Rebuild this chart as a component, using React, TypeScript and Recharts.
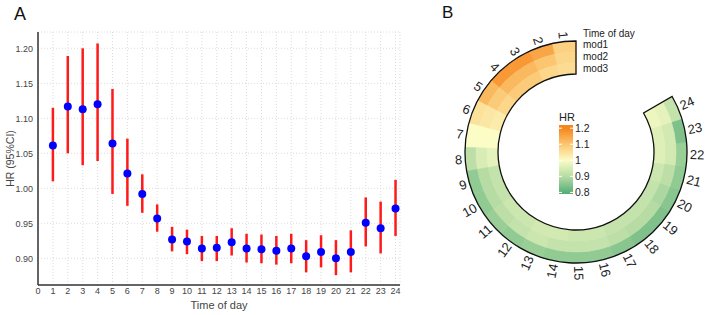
import React from 'react';
import {
  ComposedChart,
  Scatter,
  ErrorBar,
  XAxis,
  YAxis,
  CartesianGrid,
  PieChart,
  Pie,
  Cell,
} from 'recharts';

// Panel A: hazard ratio by hour with 95% CI
const hours = [1, 2, 3, 4, 5, 6, 7, 8, 9, 10, 11, 12, 13, 14, 15, 16, 17, 18, 19, 20, 21, 22, 23, 24];
const hr = [1.061, 1.117, 1.113, 1.12, 1.064, 1.021, 0.992, 0.957, 0.927, 0.924, 0.914, 0.915, 0.923, 0.914, 0.913, 0.911, 0.914, 0.903, 0.909, 0.9, 0.909, 0.951, 0.943, 0.971];
const hrLow = [1.01, 1.05, 1.033, 1.039, 0.992, 0.975, 0.965, 0.938, 0.91, 0.906, 0.896, 0.896, 0.904, 0.894, 0.893, 0.891, 0.893, 0.88, 0.887, 0.876, 0.88, 0.917, 0.907, 0.932];
const hrHigh = [1.115, 1.189, 1.2, 1.207, 1.142, 1.071, 1.02, 0.977, 0.945, 0.941, 0.932, 0.932, 0.943, 0.935, 0.934, 0.932, 0.935, 0.926, 0.933, 0.926, 0.94, 0.987, 0.981, 1.012];
const xTicks = [0, 1, 2, 3, 4, 5, 6, 7, 8, 9, 10, 11, 12, 13, 14, 15, 16, 17, 18, 19, 20, 21, 22, 23, 24];
const yTicks = [0.9, 0.95, 1.0, 1.05, 1.1, 1.15, 1.2];

// Panel B: circular heatmap, outer ring = mod1, inner ring = mod3
const mod1 = [1.08, 1.15, 1.17, 1.17, 1.12, 1.05, 1.0, 0.91, 0.86, 0.86, 0.87, 0.86, 0.87, 0.86, 0.86, 0.86, 0.85, 0.84, 0.84, 0.85, 0.86, 0.87, 0.84, 0.92];
const mod2 = [1.07, 1.1, 1.12, 1.12, 1.09, 1.04, 1.0, 0.95, 0.9, 0.9, 0.91, 0.92, 0.93, 0.92, 0.92, 0.92, 0.91, 0.9, 0.9, 0.89, 0.91, 0.94, 0.94, 0.97];
const mod3 = [1.06, 1.07, 1.09, 1.09, 1.07, 1.03, 1.0, 0.97, 0.92, 0.92, 0.93, 0.93, 0.94, 0.94, 0.93, 0.93, 0.92, 0.92, 0.92, 0.92, 0.93, 0.96, 0.96, 0.98];
const ringLegend = ['Time of day', 'mod1', 'mod2', 'mod3'];
const scaleStops = [0.8, 0.9, 1.0, 1.1, 1.2];
const scaleColors = ['#5aae7a', '#b6dca4', '#fbfcc6', '#fcc670', '#f6861d'];
const scaleLabels = ['0.8', '0.9', '1', '1.1', '1.2'];

const FONT = '"Liberation Sans", Arial, sans-serif';

const hexToRgb = (h: string) => [1, 3, 5].map(i => parseInt(h.slice(i, i + 2), 16));

const colorFor = (v: number) => {
  if (v <= scaleStops[0]) return scaleColors[0];
  if (v >= scaleStops[scaleStops.length - 1]) return scaleColors[scaleColors.length - 1];
  let i = 0;
  while (v > scaleStops[i + 1]) i++;
  const t = (v - scaleStops[i]) / (scaleStops[i + 1] - scaleStops[i]);
  const a = hexToRgb(scaleColors[i]);
  const b = hexToRgb(scaleColors[i + 1]);
  const c = a.map((x, k) => Math.round(x + (b[k] - x) * t));
  return `rgb(${c[0]},${c[1]},${c[2]})`;
};

const scatterData = hours.map((h, i) => ({
  hour: h,
  hr: hr[i],
  err: [hr[i] - hrLow[i], hrHigh[i] - hr[i]],
}));

const ringData = (vals: number[]) => hours.map((h, i) => ({ hour: h, size: 1, value: vals[i] }));

const rings = [
  { data: ringData(mod1), inner: 100, outer: 111 },
  { data: ringData(mod2), inner: 89, outer: 100 },
  { data: ringData(mod3), inner: 78, outer: 89 },
];

const RING_START = 90;
const RING_END = 390;

const Dot = (props: any) => <circle cx={props.cx} cy={props.cy} r={4} fill="#0000ff" />;

const HourLabel = (props: any) => {
  const { cx, cy, midAngle, outerRadius, payload } = props;
  const r = outerRadius + 3;
  const rad = (Math.PI / 180) * midAngle;
  const x = cx + r * Math.cos(rad);
  const y = cy - r * Math.sin(rad);
  const a = ((midAngle % 360) + 360) % 360;
  const left = a > 90 && a < 270;
  const rot = left ? 180 - a : -a;
  return (
    <text
      x={x}
      y={y}
      transform={`rotate(${rot}, ${x}, ${y})`}
      textAnchor={left ? 'end' : 'start'}
      dominantBaseline="central"
      fontSize={13}
      fontFamily={FONT}
      fill="#222"
    >
      {payload.hour}
    </text>
  );
};

const ColorBar = () => {
  const top = 1.22;
  const bottom = 0.79;
  const y0 = 125;
  const y1 = 194;
  const yOf = (v: number) => y0 + ((top - v) / (top - bottom)) * (y1 - y0);
  const stops = scaleStops
    .map((s, i) => ({ offset: (top - s) / (top - bottom), color: scaleColors[i] }))
    .sort((p, q) => p.offset - q.offset);
  return (
    <g>
      <defs>
        <linearGradient id="hrGrad" x1="0" y1="0" x2="0" y2="1">
          {stops.map(s => (
            <stop key={s.offset} offset={s.offset} stopColor={s.color} />
          ))}
        </linearGradient>
      </defs>
      <text x={559} y={121} fontSize={11} fontFamily={FONT} fill="#222">HR</text>
      <rect x={559} y={y0} width={14} height={y1 - y0} fill="url(#hrGrad)" />
      {scaleStops.map((s, i) => (
        <g key={s}>
          <line x1={559} x2={562} y1={yOf(s)} y2={yOf(s)} stroke="#fff" strokeWidth={1} />
          <line x1={570} x2={573} y1={yOf(s)} y2={yOf(s)} stroke="#fff" strokeWidth={1} />
          <text x={575} y={yOf(s)} dominantBaseline="central" fontSize={10.5} fontFamily={FONT} fill="#222">
            {scaleLabels[i]}
          </text>
        </g>
      ))}
    </g>
  );
};

export default function App() {
  return (
    <div style={{ position: 'absolute', left: 0, top: 0, width: 708, height: 315, background: '#fff' }}>
      <div style={{ position: 'absolute', left: 0, top: 0 }}>
        <ComposedChart
          width={420}
          height={315}
          data={scatterData}
          margin={{ top: 32, right: 20, left: 8, bottom: 0 }}
        >
          <CartesianGrid stroke="#dcdcdc" strokeDasharray="1 2" />
          <XAxis
            dataKey="hour"
            type="number"
            domain={[0, 24.3]}
            ticks={xTicks}
            interval={0}
            height={30}
            tickLine={false}
            tickSize={3}
            tickMargin={0}
            axisLine={{ stroke: '#333', strokeWidth: 1.5 }}
            tick={{ fontSize: 9, fill: '#444', fontFamily: FONT }}
            label={{ value: 'Time of day', position: 'insideBottom', offset: 6, fontSize: 11, fill: '#444', fontFamily: FONT }}
            allowDataOverflow
          />
          <YAxis
            type="number"
            domain={[0.8619, 1.2233]}
            ticks={yTicks}
            width={30}
            tickLine={false}
            tickSize={3}
            tickMargin={2}
            axisLine={{ stroke: '#333', strokeWidth: 1.5 }}
            tick={{ fontSize: 9, fill: '#444', fontFamily: FONT }}
            tickFormatter={(v: number) => v.toFixed(2)}
            label={{
              value: 'HR (95%CI)',
              angle: -90,
              position: 'insideLeft',
              offset: 2,
              fontSize: 10.5,
              fill: '#444',
              fontFamily: FONT,
              style: { textAnchor: 'middle' },
            }}
            allowDataOverflow
          />
          <Scatter dataKey="hr" shape={Dot} isAnimationActive={false}>
            <ErrorBar dataKey="err" direction="y" width={0} stroke="#ff1a1a" strokeWidth={2.5} />
          </Scatter>
        </ComposedChart>
      </div>

      <div style={{ position: 'absolute', left: 420, top: 0 }}>
        <PieChart width={288} height={315} margin={{ top: 0, right: 0, bottom: 0, left: 0 }}>
          {rings.map((ring, k) => (
            <Pie
              key={k}
              data={ring.data}
              dataKey="size"
              cx={156}
              cy={152}
              innerRadius={ring.inner}
              outerRadius={ring.outer}
              startAngle={RING_START}
              endAngle={RING_END}
              paddingAngle={0}
              isAnimationActive={false}
              label={k === 0 ? HourLabel : false}
              labelLine={false}
            >
              {ring.data.map(d => (
                <Cell key={d.hour} fill={colorFor(d.value)} stroke={colorFor(d.value)} strokeWidth={0.6} />
              ))}
            </Pie>
          ))}
          <Pie
            data={[{ size: 1 }]}
            dataKey="size"
            cx={156}
            cy={152}
            innerRadius={78}
            outerRadius={111}
            startAngle={RING_START}
            endAngle={RING_END}
            isAnimationActive={false}
            fill="none"
            stroke="#111"
            strokeWidth={1.3}
          >
            <Cell fill="none" stroke="#111" strokeWidth={1.3} />
          </Pie>
        </PieChart>
      </div>

      <svg width={708} height={315} style={{ position: 'absolute', left: 0, top: 0, pointerEvents: 'none' }}>
        <text x={14} y={20} fontSize={18} fontFamily={FONT} fill="#111">A</text>
        <text x={442} y={18} fontSize={17} fontFamily={FONT} fill="#111">B</text>
        {ringLegend.map((t, i) => (
          <text key={t} x={583} y={33 + i * 11.7} dominantBaseline="central" fontSize={10} fontFamily={FONT} fill="#222">
            {t}
          </text>
        ))}
        <ColorBar />
      </svg>
    </div>
  );
}
